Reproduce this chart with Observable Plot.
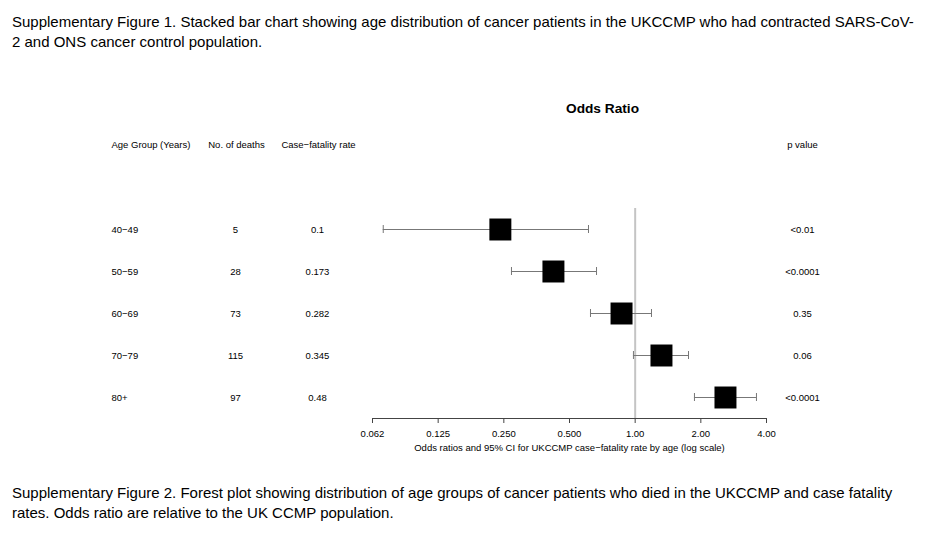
<!DOCTYPE html>
<html>
<head>
<meta charset="utf-8">
<script src="https://cdn.jsdelivr.net/npm/d3@7"></script>
<script src="https://cdn.jsdelivr.net/npm/@observablehq/plot@0.6"></script>
<style>
  body { margin: 0; background: #fff; font-family: "Liberation Sans", Arial, sans-serif; }
  .cap { font-size: 15px; line-height: 20px; color: #000; padding-left: 12px; white-space: nowrap; }
  #top { padding-top: 12px; height: 70px; box-sizing: border-box; }
  #chart { height: 400px; margin-top: 0; }
  #bottom { padding-top: 13px; }
</style>
</head>
<body>
<div id="top" class="cap">Supplementary Figure 1. Stacked bar chart showing age distribution of cancer patients in the UKCCMP who had contracted SARS-CoV-<br>2 and ONS cancer control population.</div>
<div id="chart"></div>
<div id="bottom" class="cap">Supplementary Figure 2. Forest plot showing distribution of age groups of cancer patients who died in the UKCCMP and case fatality<br>rates. Odds ratio are relative to the UK CCMP population.</div>
<script>
const ages = ["40\u221249", "50\u221259", "60\u221269", "70\u221279", "80+"];
const deaths = [5, 28, 73, 115, 97];
const cfr = ["0.1", "0.173", "0.282", "0.345", "0.48"];
const oddsRatio = [0.241, 0.422, 0.866, 1.32, 2.594];
const ciLow = [0.070, 0.271, 0.624, 0.982, 1.87];
const ciHigh = [0.611, 0.665, 1.188, 1.756, 3.598];
const pValues = ["<0.01", "<0.0001", "0.35", "0.06", "<0.0001"];
const tickValues = [0.0625, 0.125, 0.25, 0.5, 1, 2, 4];
const tickLabels = ["0.062", "0.125", "0.250", "0.500", "1.00", "2.00", "4.00"];
const headers = ["Age Group (Years)", "No. of deaths", "Case\u2212fatality rate"];

const rows = ages.map((a, i) => ({
  age: a, deaths: deaths[i], cfr: cfr[i], or: oddsRatio[i], lo: ciLow[i], hi: ciHigh[i], p: pValues[i]
}));
const tickLabelMap = new Map(tickValues.map((v, i) => [v, tickLabels[i]]));

const fs = "9.5px";
const chart = Plot.plot({
  width: 946,
  height: 400,
  marginLeft: 372,
  marginRight: 180,
  marginTop: 138,
  marginBottom: 52,
  style: { fontFamily: "'Liberation Sans', Arial, sans-serif", fontSize: fs, color: "#000", background: "#fff" },
  x: { type: "log", base: 2, domain: [0.0625, 4] },
  y: { type: "band", domain: ages, padding: 0, axis: null },
  marks: [
    Plot.ruleX([1], { stroke: "#c4c4c4", strokeWidth: 2 }),
    Plot.frame({ anchor: "bottom", stroke: "#444" }),
    Plot.axisX({ ticks: tickValues, tickFormat: (d) => tickLabelMap.get(d), tickSize: 5, tickPadding: 7, stroke: "#444" }),
    Plot.text(["Odds ratios and 95% CI for UKCCMP case\u2212fatality rate by age (log scale)"], { frameAnchor: "bottom", dy: 32, fontSize: fs, fill: "#000" }),
    Plot.text(["Odds Ratio"], { frameAnchor: "top", dx: 33, dy: -105, fontSize: "13.7px", fontWeight: "bold", fill: "#000" }),
    Plot.text([headers[0]], { frameAnchor: "top-left", dx: -261, dy: -67, textAnchor: "start", fill: "#000" }),
    Plot.text([headers[1]], { frameAnchor: "top-left", dx: -136, dy: -67, textAnchor: "middle", fill: "#000" }),
    Plot.text([headers[2]], { frameAnchor: "top-left", dx: -54, dy: -67, textAnchor: "middle", fill: "#000" }),
    Plot.text(["p value"], { frameAnchor: "top-right", dx: 36, dy: -67, textAnchor: "middle", fill: "#000" }),
    Plot.text(rows, { y: "age", text: "age", frameAnchor: "left", dx: -261, textAnchor: "start", fill: "#000" }),
    Plot.text(rows, { y: "age", text: "deaths", frameAnchor: "left", dx: -137, textAnchor: "middle", fill: "#000" }),
    Plot.text(rows, { y: "age", text: "cfr", frameAnchor: "left", dx: -55, textAnchor: "middle", fill: "#000" }),
    Plot.text(rows, { y: "age", text: "p", frameAnchor: "right", dx: 36, textAnchor: "middle", fill: "#000" }),
    Plot.ruleY(rows, { y: "age", x1: "lo", x2: "hi", stroke: "#777", strokeWidth: 1 }),
    Plot.tickX(rows, { x: "lo", y: "age", insetTop: 17, insetBottom: 17, stroke: "#777" }),
    Plot.tickX(rows, { x: "hi", y: "age", insetTop: 17, insetBottom: 17, stroke: "#777" }),
    Plot.dot(rows, { x: "or", y: "age", symbol: "square", r: 12.4, fill: "#000", stroke: null })
  ]
});
document.getElementById("chart").appendChild(chart);
</script>
</body>
</html>
